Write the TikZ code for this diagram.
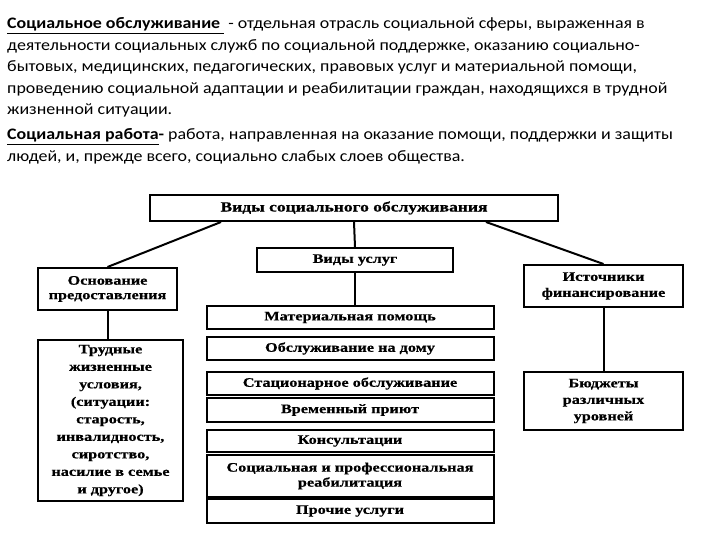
\documentclass[tikz,border=0pt]{standalone}
\usepackage{fontspec}
\usetikzlibrary{calc}
\setmainfont{Carlito}[FakeStretch=1.12]
\newfontfamily\dfont{Liberation Serif Bold}[FakeStretch=1.25,FakeBold=0.6]
\begin{document}
\begin{tikzpicture}[x=1pt,y=-1pt,
  txt/.style={anchor=base west,inner sep=0pt,font=\fontsize{16}{19}\selectfont},
  box/.style={draw,line width=2pt,inner sep=1pt,align=center,font=\dfont\fontsize{13}{15}\selectfont},
  conn/.style={line width=2pt}]
\useasboundingbox (0,0) rectangle (720,540);
\node[txt] (l1) at (7,29) {\textbf{\underline{Социальное обслуживание }} - отдельная отрасль социальной сферы, выраженная в};
\node[txt] (l2) at (7,50.5) {деятельности социальных служб по социальной поддержке, оказанию социально-};
\node[txt] (l3) at (7,72) {бытовых, медицинских, педагогических, правовых услуг и материальной помощи,};
\node[txt] (l4) at (7,93.5) {проведению социальной адаптации и реабилитации граждан, находящихся в трудной};
\node[txt] (l5) at (7,115) {жизненной ситуации.};
\node[txt] (l6) at (7,140) {\textbf{\underline{Социальная работа}-} работа, направленная на оказание помощи, поддержки и защиты};
\node[txt] (l7) at (7,162) {людей, и, прежде всего, социально слабых слоев общества.};

\node[box,minimum width=408,minimum height=26,font=\dfont\fontsize{14}{16}\selectfont] (top) at (354,208) {Виды социального обслуживания};
\node[box,minimum width=196,minimum height=24] (serv) at (355,260) {Виды услуг};
\node[box,minimum width=139,minimum height=42,font=\dfont\fontsize{13}{14.5}\selectfont] (osn) at (107.5,289) {Основание\\предоставления};
\node[box,minimum width=145,minimum height=161,font=\dfont\fontsize{13}{17.5}\selectfont] (trud) at (110.5,420.5) {Трудные\\жизненные\\условия,\\(ситуации:\\старость,\\инвалидность,\\сиротство,\\насилие в семье\\и другое)};
\node[box,minimum width=159,minimum height=42,font=\dfont\fontsize{13}{16}\selectfont] (ist) at (603.5,286) {Источники\\финансирование};
\node[box,minimum width=159,minimum height=58,font=\dfont\fontsize{13}{16.5}\selectfont] (budg) at (603.5,401) {Бюджеты\\различных\\уровней};

\node[box,minimum width=287,minimum height=23] (m1) at (350,317.5) {Материальная помощь};
\node[box,minimum width=287,minimum height=23] (m2) at (350,348.5) {Обслуживание на дому};
\node[box,minimum width=287,minimum height=23] (m3) at (350,383.5) {Стационарное обслуживание};
\node[box,minimum width=287,minimum height=24] (m4) at (350,410) {Временный приют};
\node[box,minimum width=287,minimum height=22] (m5) at (350,441) {Консультации};
\node[box,minimum width=287,minimum height=42,font=\dfont\fontsize{13}{15}\selectfont] (m6) at (350,476) {Социальная и профессиональная\\реабилитация};
\node[box,minimum width=287,minimum height=24] (m7) at (350,511) {Прочие услуги};

\draw[conn] (top.south) -- (serv.north);
\draw[conn] (serv.south) -- (serv.south |- m1.north);
\draw[conn] ($(top.south west)+(72,0)$) -- (osn.north);
\draw[conn] ($(top.south west)+(337,0)$) -- (ist.north);
\draw[conn] (osn.south) -- (osn.south |- trud.north);
\draw[conn] (ist.south) -- (ist.south |- budg.north);
\end{tikzpicture}
\end{document}
